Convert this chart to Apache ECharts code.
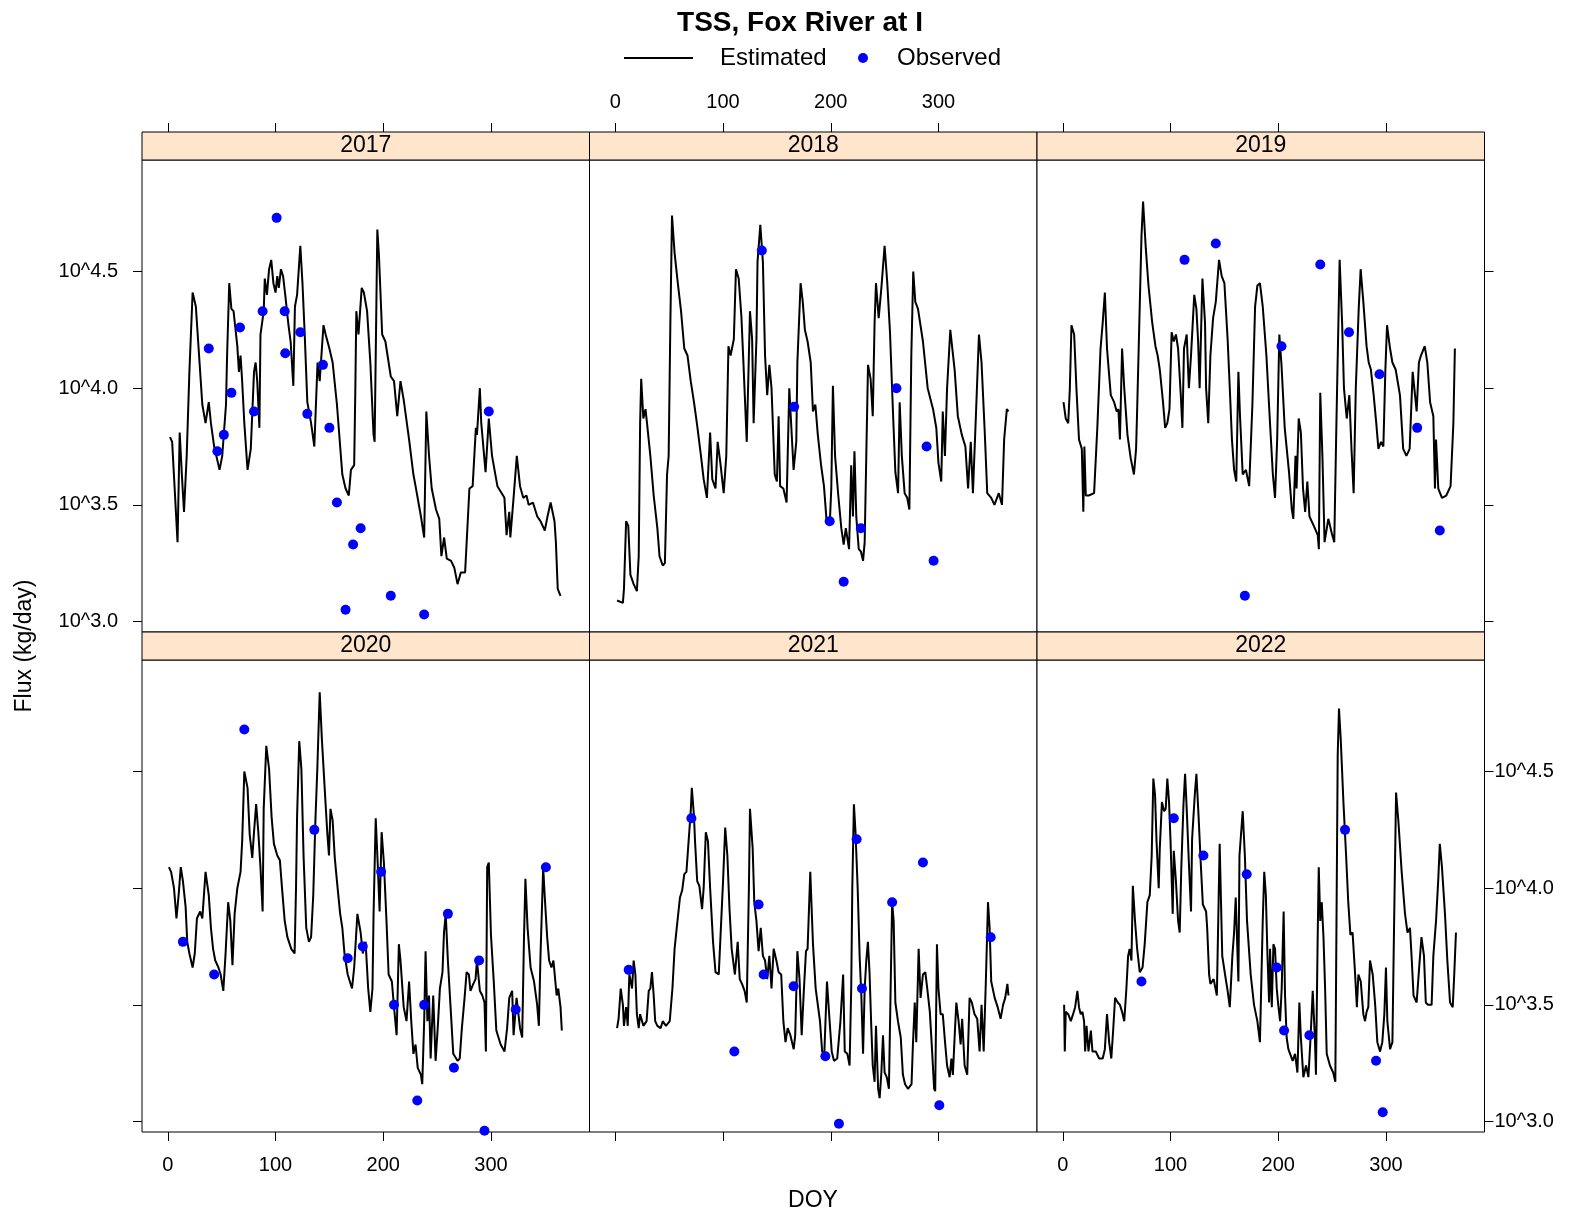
<!DOCTYPE html>
<html lang="en">
<head>
    <meta charset="UTF-8">
    <title>TSS, Fox River at I</title>
    <style>
        html, body { margin: 0; padding: 0; background: #fff; }
        #chart { width: 1579px; height: 1219px; }
    </style>
</head>
<body>
<div id="chart"></div>

<script src="https://cdn.jsdelivr.net/npm/echarts@6/dist/echarts.min.js"></script>
<script>
    // panel years, in lattice order (top row then bottom row)
    const years = ['2017', '2018', '2019', '2020', '2021', '2022'];
    const xTicks = [0, 100, 200, 300];
    const yTicks = [3.0, 3.5, 4.0, 4.5];

    // estimated daily flux, [DOY, log10(kg/day)]
    const est2017 = [[2,3.79],[4,3.77],[9,3.34],[11,3.81],[13,3.63],[15,3.47],[17.5,3.71],[20,4.07],[23,4.41],[26,4.35],[29,4.14],[32,3.93],[35,3.85],[38,3.94],[40,3.85],[43,3.75],[48,3.65],[50.5,3.71],[54,3.93],[55,4.14],[57,4.45],[59,4.34],[61,4.33],[64.5,4.18],[66,4.07],[67.5,4.14],[69,4.03],[71,3.85],[74,3.65],[77,3.74],[80,4.07],[81.5,4.11],[83,4.03],[85,3.83],[86,4.23],[89,4.33],[90,4.47],[92,4.40],[94,4.51],[96,4.55],[98,4.45],[100,4.41],[101.6,4.48],[103,4.43],[105,4.51],[107,4.48],[109,4.40],[112,4.27],[114,4.20],[116.5,4.01],[118,4.35],[120,4.40],[123,4.61],[125,4.45],[127,4.24],[129.5,3.94],[133,3.85],[136,3.75],[139,4.11],[141,4.03],[144.5,4.27],[146.5,4.23],[150,4.17],[153,4.11],[157,3.93],[162,3.63],[165,3.57],[168,3.54],[170,3.65],[173,3.67],[174,3.97],[175,4.33],[177,4.23],[180,4.43],[182,4.41],[185,4.33],[188,4.11],[191,3.80],[192,3.77],[194.5,4.68],[196,4.57],[199,4.23],[202,4.20],[207,4.05],[210,4.03],[213,3.88],[216,4.03],[219,3.95],[224,3.78],[228,3.63],[230,3.58],[235,3.45],[238,3.36],[240,3.90],[242.5,3.71],[245,3.57],[249,3.48],[252,3.44],[254,3.28],[256.5,3.36],[259,3.27],[263,3.26],[266,3.23],[269,3.16],[272,3.21],[276,3.21],[280,3.57],[283,3.58],[286,3.83],[287,3.80],[289.7,4.00],[291,3.85],[295,3.64],[298,3.87],[301,3.71],[306,3.58],[310,3.55],[312.5,3.53],[314.5,3.37],[317,3.47],[318,3.36],[321,3.53],[324,3.71],[327,3.58],[330,3.53],[333,3.54],[335,3.50],[339,3.51],[343,3.45],[346,3.43],[350,3.39],[352.5,3.45],[355.4,3.51],[359,3.43],[360.3,3.34],[362,3.14],[364.6,3.11]];
    const est2018 = [[1.6,3.09],[7,3.08],[8,3.14],[10,3.43],[12,3.41],[14,3.20],[17,3.16],[20,3.13],[21.7,3.28],[23,3.85],[24,4.04],[26,3.87],[28,3.91],[29.4,3.85],[32.5,3.71],[35.6,3.54],[39,3.40],[41,3.28],[44,3.24],[46,3.25],[48,3.63],[49.5,3.71],[51,4.25],[52.6,4.74],[55,4.58],[58,4.45],[61,4.33],[64,4.17],[67,4.14],[70,4.03],[73,3.94],[76,3.84],[79.5,3.71],[82,3.61],[85,3.53],[88,3.81],[90,3.61],[93,3.57],[95,3.77],[97.5,3.68],[100.6,3.55],[103,3.71],[105,4.18],[107,4.14],[110,4.21],[112,4.51],[114.5,4.47],[117,4.31],[119,4.10],[122,3.77],[125,4.33],[127,4.21],[128.4,3.85],[131,4.21],[132,4.54],[134.6,4.70],[137,4.54],[139,4.14],[141,3.97],[143,4.10],[145,4.00],[148,3.63],[150,3.60],[151.6,3.88],[153,3.58],[156,3.57],[159,3.51],[161.5,4.00],[164,3.78],[165.5,3.65],[168,3.77],[169,4.11],[172,4.45],[174,4.37],[176,4.25],[178.5,4.20],[181.4,4.11],[183.5,3.90],[185.7,3.93],[188,3.80],[191,3.67],[193.7,3.58],[196,3.44],[199,3.41],[200.5,3.57],[202,4.01],[204,3.71],[207,3.54],[209.8,3.40],[212,3.33],[214,3.40],[217,3.31],[219,3.67],[220.6,3.45],[222,3.73],[223.7,3.45],[226,3.31],[228,3.30],[230,3.26],[231.5,3.34],[233,3.71],[234.6,4.10],[237,4.04],[239,3.88],[240.7,4.28],[242,4.45],[244.5,4.30],[247,4.43],[250,4.61],[252.5,4.45],[255,4.24],[258,3.87],[260,3.64],[262.5,3.55],[264,3.94],[266,3.71],[268.6,3.55],[271,3.53],[273,3.48],[274.8,4.14],[276.6,4.50],[278.5,4.37],[281,4.34],[285.6,4.20],[290,4.00],[295,3.91],[298,3.83],[300,3.68],[302.6,3.60],[304,3.90],[306,3.71],[308,4.00],[311,4.25],[315,4.08],[318,3.88],[321.7,3.80],[325,3.75],[327.5,3.57],[330,3.77],[332,3.55],[335,3.91],[337.6,4.23],[340,4.11],[343,3.81],[345.3,3.55],[349,3.53],[352,3.50],[356,3.55],[359,3.50],[361,3.78],[363.5,3.91],[365,3.90]];
    const est2019 = [[0.6,3.94],[2.7,3.87],[5,3.85],[6.5,4.00],[8,4.27],[10.5,4.23],[12.6,4.00],[15,3.78],[17.6,3.74],[19,3.47],[20,3.75],[21.3,3.54],[24,3.54],[29,3.55],[32,3.83],[35,4.17],[37,4.28],[39,4.41],[41,4.17],[44.5,3.97],[47.6,3.94],[50,3.90],[51.6,3.91],[53,3.78],[55,4.17],[57,4.00],[60,3.80],[63,3.70],[66,3.63],[68,3.74],[69,3.91],[71,4.28],[73,4.65],[74.5,4.80],[77,4.60],[79.5,4.44],[83,4.28],[86,4.18],[88,4.14],[90,4.08],[93,3.94],[95,3.83],[97,3.85],[99,3.91],[101,4.24],[103,4.20],[105,4.23],[107,4.17],[109.5,3.97],[111,3.83],[112.5,4.17],[115,4.23],[117,4.00],[119,4.14],[122,4.40],[124,4.34],[125.6,4.20],[127,4.00],[129.6,4.47],[132,4.28],[133,4.00],[135,3.85],[137,4.14],[139.5,4.30],[142,4.37],[145,4.55],[147.5,4.48],[150,4.45],[153,4.21],[155,4.00],[157,3.78],[159,3.65],[161,3.60],[163,4.07],[164.5,3.88],[167,3.63],[170,3.65],[173,3.58],[176,3.93],[178.5,4.35],[180.6,4.44],[183,4.45],[185.6,4.35],[189,4.14],[192,3.88],[195,3.63],[197,3.53],[199,3.78],[201,4.23],[203,4.10],[206,3.83],[210,3.64],[212.6,3.48],[214,3.44],[216,3.71],[217,3.57],[219,3.87],[221,3.81],[223,3.57],[225,3.47],[227,3.60],[229,3.45],[233,3.41],[236.7,3.37],[237.7,3.31],[239,3.98],[241,3.71],[243,3.34],[246.5,3.44],[249.6,3.38],[252,3.34],[254,3.85],[257,4.55],[259.3,4.28],[261,4.00],[263.6,3.87],[266,3.97],[268,3.74],[270,3.55],[272,4.00],[274.7,4.34],[276.5,4.51],[279,4.37],[282,4.18],[284,4.11],[286,4.08],[288.6,3.97],[291,3.85],[293,3.74],[295.4,3.77],[297.6,3.75],[299.4,4.07],[301,4.27],[303.8,4.17],[306,4.11],[309,4.08],[313,3.97],[316,3.74],[319,3.71],[322,3.74],[324.8,4.07],[327,3.97],[328.5,3.90],[330.6,4.11],[332.5,4.14],[336,4.18],[338.4,4.11],[341,3.94],[344,3.88],[345.5,3.57],[346.5,3.78],[348.6,3.57],[352,3.53],[356,3.54],[360,3.58],[362.6,3.85],[364,4.17]];
    const est2020 = [[1,4.09],[3,4.07],[5.7,4.00],[8,3.87],[10,3.97],[12,4.09],[14,4.03],[16.5,3.92],[18,3.77],[20,3.72],[23,3.66],[25,3.72],[27,3.87],[30,3.90],[32,3.87],[35,4.07],[38,3.97],[40,3.83],[42,3.74],[44,3.69],[47,3.66],[49,3.63],[51.5,3.56],[53.6,3.72],[56,3.94],[58,3.86],[60,3.67],[62,3.89],[64.5,4.00],[67.5,4.07],[69,4.20],[71,4.50],[74,4.43],[76,4.23],[78.4,4.13],[80,4.24],[82,4.36],[84,4.24],[86,4.09],[88,3.90],[89,4.34],[91.4,4.61],[94,4.51],[96.4,4.30],[98.5,4.19],[101.6,4.14],[104,4.12],[106,4.00],[108.5,3.86],[111,3.79],[114.6,3.74],[117.7,3.72],[119,4.00],[120,4.31],[122,4.63],[124,4.51],[126,4.14],[128.5,3.83],[131,3.77],[133,3.79],[135,3.97],[137,4.29],[138.7,4.50],[141,4.84],[143,4.64],[145.6,4.43],[148,4.24],[149.6,4.14],[151,4.34],[153,4.29],[155,4.13],[157,4.03],[160,3.89],[162,3.83],[164,3.72],[167,3.63],[169,3.60],[171,3.57],[173,3.66],[176,3.89],[179,3.81],[181,3.72],[183.6,3.77],[186,3.57],[188,3.47],[190,3.57],[191,3.89],[193,4.30],[195,4.09],[196.6,3.90],[198.5,4.24],[200.6,4.11],[203,3.86],[205,3.63],[208,3.60],[210,3.49],[212.4,3.37],[214.5,3.76],[216,3.69],[219,3.49],[221.6,3.43],[224,3.60],[226,3.43],[228,3.29],[230,3.33],[232,3.23],[235,3.20],[236.2,3.16],[238,3.43],[239.3,3.73],[241,3.43],[242.5,3.54],[244,3.27],[246.4,3.54],[248.6,3.26],[250.7,3.41],[252.6,3.57],[255,3.64],[256.4,3.81],[258,3.89],[260,3.69],[262.5,3.49],[265,3.29],[269,3.26],[271,3.27],[273,3.40],[275.5,3.53],[277.4,3.64],[279.5,3.63],[281,3.56],[283.6,3.59],[285.7,3.61],[287,3.69],[289.7,3.56],[292,3.54],[294,3.51],[295.3,3.30],[296.5,4.09],[298,4.11],[300,3.80],[302.6,3.60],[305,3.39],[309,3.33],[312.6,3.30],[315,3.40],[317,3.53],[319.7,3.56],[321,3.37],[323.8,3.53],[327,3.40],[329,3.36],[330.6,3.77],[332,4.04],[334,3.83],[336.8,3.66],[340,3.60],[342.9,3.50],[344.5,3.41],[346,3.71],[348.5,4.09],[350,3.96],[352.2,3.79],[354,3.69],[356.2,3.66],[358,3.69],[361,3.54],[362.5,3.57],[364.6,3.49],[365.8,3.39]];
    const est2021 = [[1.6,3.40],[3,3.44],[5,3.57],[7,3.50],[8,3.41],[10,3.49],[11.5,3.41],[13,3.63],[15.5,3.57],[17,3.69],[18.6,3.63],[20,3.46],[21.7,3.40],[23,3.46],[26,3.41],[29,3.43],[31,3.56],[32.5,3.57],[34,3.64],[35.6,3.54],[37,3.43],[39,3.41],[42,3.40],[44,3.43],[47,3.41],[50.5,3.43],[53,3.57],[55,3.74],[57,3.83],[60,3.96],[62,3.99],[64,4.06],[66,4.07],[68,4.20],[70,4.33],[71,4.43],[73,4.31],[74,4.20],[76,4.03],[78,4.01],[80.5,3.91],[82,4.00],[84,4.24],[86,4.20],[88,4.00],[90.7,3.77],[93,3.64],[96,3.63],[98,3.83],[100,4.03],[102,4.26],[104,4.14],[106,3.91],[108,3.74],[111,3.63],[113.6,3.77],[115.5,3.61],[117.6,3.59],[120,3.56],[122,3.51],[124,4.00],[125,4.34],[127.5,4.17],[129,3.94],[131,3.86],[133,3.73],[135,3.83],[137,3.71],[139,3.69],[141,3.61],[143,3.71],[145,3.57],[147,3.74],[149.5,3.69],[151.6,3.64],[154,3.63],[156,3.43],[158,3.34],[160,3.40],[162.5,3.37],[165.6,3.31],[167,3.37],[169,3.73],[171,3.61],[173,3.37],[175,3.56],[177,3.73],[178.5,3.74],[181,4.07],[183.5,3.76],[186,3.57],[190,3.43],[192,3.30],[194,3.29],[196.5,3.60],[198.5,3.46],[200.9,3.30],[203,3.26],[206,3.27],[209,3.43],[211.5,3.63],[213,3.30],[215.4,3.29],[217.5,3.24],[219,3.57],[220,4.00],[221.5,4.36],[223,4.24],[225,4.00],[226.8,3.71],[228.4,3.54],[230,3.29],[231.5,3.57],[233,3.69],[234.5,3.77],[236,3.64],[237.6,3.41],[239,3.24],[240.7,3.17],[242,3.41],[244,3.14],[245.4,3.10],[247,3.21],[248.5,3.37],[250,3.21],[252,3.19],[254,3.14],[255.6,3.57],[257,3.94],[258.4,3.86],[260,3.51],[262.4,3.43],[265,3.36],[267,3.20],[269,3.16],[271.7,3.14],[275,3.16],[276.3,3.33],[278,3.51],[279.4,3.34],[281.6,3.74],[283.4,3.53],[285.6,3.63],[287.8,3.64],[289.6,3.57],[292,3.47],[294,3.31],[296,3.14],[297,3.13],[298.6,3.76],[300,3.57],[302,3.46],[304,3.46],[306.3,3.33],[308,3.24],[310.4,3.19],[312,3.27],[313.4,3.20],[315,3.36],[316.6,3.51],[318.7,3.43],[320.6,3.33],[322,3.44],[324.3,3.24],[326.7,3.20],[328.9,3.53],[331,3.51],[333.5,3.46],[336,3.44],[338.2,3.30],[340,3.50],[342,3.30],[344,3.60],[346,3.94],[347.5,3.83],[349,3.60],[352.2,3.53],[355,3.49],[357.7,3.44],[360,3.50],[362,3.53],[364,3.59],[365,3.54]];
    const est2022 = [[1.2,3.50],[1.8,3.30],[2.7,3.47],[5,3.46],[7.4,3.43],[9.5,3.46],[11.4,3.49],[13.5,3.56],[15,3.49],[16.6,3.46],[18.2,3.47],[19.7,3.43],[20.7,3.30],[22,3.41],[23.8,3.30],[26,3.39],[27.5,3.30],[30.6,3.30],[33.7,3.27],[37,3.27],[39,3.31],[41,3.46],[43,3.34],[45,3.27],[46.7,3.39],[48.5,3.53],[51,3.51],[53,3.50],[55,3.47],[57,3.43],[59,3.57],[60.6,3.71],[62,3.74],[63.7,3.69],[65,4.01],[67,3.86],[69,3.74],[71.4,3.64],[74,3.66],[76,3.76],[78.5,3.94],[80.7,3.97],[82.5,4.14],[84,4.47],[85.6,4.40],[87,4.20],[89,4.00],[90,4.17],[92,4.37],[94,4.33],[95.5,4.34],[97,4.47],[98.6,4.37],[100,4.20],[102,3.89],[103,4.16],[105,4.03],[107,3.86],[108.5,3.81],[110,4.09],[112,4.36],[113.5,4.49],[115,4.34],[117,4.11],[119,3.90],[120,4.21],[122.5,4.40],[124,4.49],[126,4.31],[128,4.11],[130,3.93],[133,3.90],[134,3.83],[135.8,3.63],[137,3.59],[140,3.61],[143,3.54],[145.6,4.19],[148,3.71],[150.6,3.63],[153,3.56],[155,3.49],[157.4,3.71],[159,3.81],[160.5,3.96],[163,3.60],[164,4.14],[167,4.33],[169,4.14],[171,3.86],[174.4,3.63],[177.5,3.50],[180.6,3.43],[183,3.34],[185.6,3.86],[187,4.07],[188.5,3.97],[190,3.71],[191.5,3.51],[192.4,3.74],[194,3.49],[195.5,3.76],[197,3.74],[198.6,3.57],[200,3.50],[201.7,3.43],[203.2,3.57],[205,3.90],[206.3,3.54],[207.8,3.36],[209.4,3.31],[211,3.29],[213.4,3.26],[215.6,3.29],[217.8,3.21],[219.6,3.51],[221,3.36],[223.3,3.19],[225.8,3.24],[228,3.19],[230,3.36],[232,3.56],[234,3.36],[235,3.20],[236.6,3.79],[237.6,4.09],[239,3.86],[240.4,3.94],[242,3.79],[243.5,3.57],[245,3.29],[248,3.24],[251,3.21],[253,3.17],[254.3,4.00],[255.2,4.57],[256.4,4.77],[258,4.64],[260.5,4.37],[263,4.14],[265,3.94],[267,3.80],[269,3.81],[271,3.66],[273,3.49],[274.4,3.63],[276.6,3.60],[279,3.46],[280.6,3.43],[282,3.47],[283.6,3.49],[285.2,3.69],[287.7,3.63],[290,3.50],[292,3.34],[294.5,3.30],[296.6,3.34],[298.5,3.46],[300,3.66],[301.3,3.43],[303.8,3.31],[306,3.34],[307.5,3.83],[309.4,4.41],[311.5,4.29],[314.6,4.07],[317.7,3.89],[320,3.81],[322.3,3.83],[324,3.69],[325.6,3.54],[328.5,3.51],[331,3.67],[333,3.79],[335.3,3.71],[337,3.51],[339,3.50],[342.4,3.50],[344,3.71],[346.5,3.86],[348.6,4.04],[350,4.19],[352,4.09],[354.8,3.89],[357,3.69],[359.5,3.51],[362,3.49],[363.5,3.64],[365,3.81]];

    // observed samples, [DOY, log10(kg/day)]
    const obs2017 = [[38,4.17],[46,3.73],[52,3.80],[59,3.98],[67,4.26],[80,3.90],[88,4.33],[101,4.73],[108.5,4.33],[109,4.15],[123,4.24],[129.5,3.89],[144,4.10],[150,3.83],[157,3.51],[165,3.05],[172,3.33],[179,3.40],[207,3.11],[238,3.03],[298,3.90]];
    const obs2018 = [[136,4.59],[166,3.92],[199,3.43],[212,3.17],[228,3.40],[261,4.00],[289,3.75],[295.5,3.26]];
    const obs2019 = [[113,4.55],[142,4.62],[169,3.11],[203,4.18],[239,4.53],[265.7,4.24],[294,4.06],[329,3.83],[350,3.39]];
    const obs2020 = [[14,3.77],[43,3.63],[71,4.68],[136,4.25],[167,3.70],[181,3.75],[198,4.07],[210,3.50],[231.6,3.09],[238,3.50],[260,3.89],[265.6,3.23],[289,3.69],[294,2.96],[323,3.48],[351,4.09]];
    const obs2021 = [[12.4,3.65],[70.6,4.30],[110.5,3.30],[133,3.93],[137.7,3.63],[165.5,3.58],[195,3.28],[207.6,2.99],[224,4.21],[229,3.57],[257,3.94],[285.6,4.11],[300.8,3.07],[348.5,3.79]];
    const obs2022 = [[73,3.60],[103,4.30],[130.5,4.14],[170.7,4.06],[198.6,3.66],[205.4,3.39],[228.9,3.37],[262,4.25],[290.8,3.26],[297,3.04]];

    const estimated = [est2017, est2018, est2019, est2020, est2021, est2022];
    const observed = [obs2017, obs2018, obs2019, obs2020, obs2021, obs2022];

    // panel layout (px)
    const colLeft = [142, 589.5, 1037];
    const rowTop = [160, 660];
    const panelW = 447.5;
    const panelH = 472;
    const stripH = 28;
    const font = '"Liberation Sans", Arial, Helvetica, sans-serif';

    let grids = [], xAxes = [], yAxes = [], series = [], graphics = [];

    years.forEach((yr, i) => {
        let r = Math.floor(i / 3), c = i % 3;
        grids.push({
            left: colLeft[c], top: rowTop[r], width: panelW, height: panelH,
            show: true, borderColor: '#000', borderWidth: 1, backgroundColor: '#fff'
        });

        let xLabels = (r === 0 && c === 1) || (r === 1 && c !== 1);
        xAxes.push({
            gridIndex: i, type: 'value', min: -24, max: 391.5,
            position: r === 0 ? 'top' : 'bottom',
            offset: r === 0 ? stripH : 0,
            splitLine: {show: false},
            axisLine: {show: false, onZero: false},
            axisTick: {show: true, inside: false, length: 9, customValues: xTicks, lineStyle: {color: '#000', width: 1}},
            axisLabel: {show: xLabels, customValues: xTicks, margin: r === 0 ? 20 : 23, fontSize: 20, color: '#000', fontFamily: font}
        });

        let yLabels = (r === 0 && c === 0) || (r === 1 && c === 2);
        yAxes.push({
            gridIndex: i, type: 'value', min: 2.955, max: 4.978,
            show: c !== 1,
            position: c === 2 ? 'right' : 'left',
            splitLine: {show: false},
            axisLine: {show: false, onZero: false},
            axisTick: {show: true, inside: false, length: 9, customValues: yTicks, lineStyle: {color: '#000', width: 1}},
            axisLabel: {
                show: yLabels, customValues: yTicks, margin: c === 2 ? 10 : 24,
                fontSize: 20, color: '#000', fontFamily: font,
                formatter: v => '10^' + v.toFixed(1)
            }
        });

        series.push({
            name: 'Estimated', type: 'line', xAxisIndex: i, yAxisIndex: i,
            data: estimated[i], symbol: 'none', smooth: false,
            lineStyle: {color: '#000', width: 2}, z: 2
        });
        series.push({
            name: 'Observed', type: 'scatter', xAxisIndex: i, yAxisIndex: i,
            data: observed[i], symbol: 'circle', symbolSize: 10,
            itemStyle: {color: '#0000ff', opacity: 1}, z: 3
        });

        // strip with the year
        graphics.push({
            type: 'rect',
            shape: {x: colLeft[c], y: rowTop[r] - stripH, width: panelW, height: stripH},
            style: {fill: '#ffe5cc', stroke: '#000', lineWidth: 1}
        });
        graphics.push({
            type: 'text', x: colLeft[c] + panelW / 2, y: rowTop[r] - stripH / 2,
            style: {text: yr, fontSize: 23, fontFamily: font, fill: '#000', textAlign: 'center', textVerticalAlign: 'middle'}
        });
    });

    // title, key and axis titles
    graphics.push(
        {type: 'text', x: 800, y: 23, style: {text: 'TSS, Fox River at I', fontSize: 28, fontWeight: 'bold', fontFamily: font, fill: '#000', textAlign: 'center', textVerticalAlign: 'middle'}},
        {type: 'line', shape: {x1: 624, y1: 58, x2: 693, y2: 58}, style: {stroke: '#000', lineWidth: 2}},
        {type: 'text', x: 720, y: 58, style: {text: 'Estimated', fontSize: 24, fontFamily: font, fill: '#000', textAlign: 'left', textVerticalAlign: 'middle'}},
        {type: 'circle', shape: {cx: 863, cy: 58, r: 5}, style: {fill: '#0000ff'}},
        {type: 'text', x: 897, y: 58, style: {text: 'Observed', fontSize: 24, fontFamily: font, fill: '#000', textAlign: 'left', textVerticalAlign: 'middle'}},
        {type: 'text', x: 25, y: 646, rotation: Math.PI / 2, style: {text: 'Flux (kg/day)', fontSize: 23, fontFamily: font, fill: '#000', textAlign: 'center', textVerticalAlign: 'middle'}},
        {type: 'text', x: 813, y: 1201, style: {text: 'DOY', fontSize: 23, fontFamily: font, fill: '#000', textAlign: 'center', textVerticalAlign: 'middle'}}
    );

    let chart = echarts.init(document.getElementById('chart'));
    chart.setOption({
        animation: false,
        backgroundColor: '#fff',
        grid: grids,
        xAxis: xAxes,
        yAxis: yAxes,
        series: series,
        graphic: graphics
    });
</script>
</body>
</html>
